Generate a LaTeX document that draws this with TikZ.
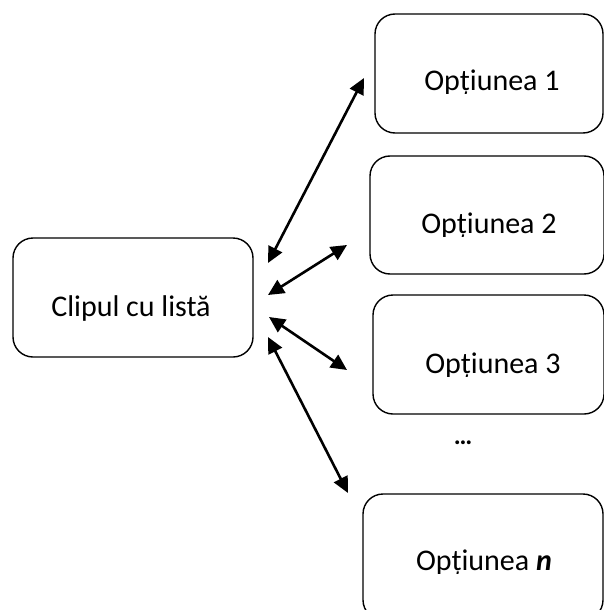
\documentclass[tikz,border=0pt]{standalone}
\usepackage{fontspec}
\setmainfont{Carlito}
\usetikzlibrary{arrows.meta}
\begin{document}
\begin{tikzpicture}[x=1pt,y=-1pt,
  box/.style={draw=black,line width=1.4pt,rounded corners=20pt},
  lbl/.style={anchor=base,inner sep=0pt,font=\fontsize{30}{34}\selectfont},
  dblarrow/.style={line width=2.6pt,{Triangle[length=16pt,width=15pt]}-{Triangle[length=16pt,width=15pt]}}]
\useasboundingbox (0,0) rectangle (604,610);
% boxes
\draw[box] (13,238) rectangle (253,357);
\draw[box] (375,14) rectangle (603,133);
\draw[box] (370,156) rectangle (604,274);
\draw[box] (373,295) rectangle (604,414);
\draw[box] (363,494) rectangle (603,620);
% labels
\node[lbl] (clip) at (131,316) {Clipul cu listă};
\begin{scope}
\clip (376,15) rectangle (602,93.5);
\node[lbl] (o1) at (492,90) {Opțiunea 1};
\end{scope}
\begin{scope}
\clip (371,157) rectangle (602,236.5);
\node[lbl] (o2) at (489,233) {Opțiunea 2};
\end{scope}
\begin{scope}
\clip (374,296) rectangle (602,376.5);
\node[lbl] (o3) at (493,373) {Opțiunea 3};
\end{scope}
\node[font=\bfseries\fontsize{26}{30}\selectfont,inner sep=0pt] (dots) at (463,443) {…};
\begin{scope}
\clip (364,495) rectangle (602,573.5);
\node[lbl] (on) at (484,570) {Opțiunea \textbf{\textit{n}}};
\end{scope}
% arrow end points
\coordinate (a1s) at (268,263);
\coordinate (a1e) at (364,78);
\coordinate (a2s) at (268,295);
\coordinate (a2e) at (347,245);
\coordinate (a3s) at (269,317);
\coordinate (a3e) at (347,370);
\coordinate (a4s) at (268,337);
\coordinate (a4e) at (348,493);
\draw[dblarrow] (a1s) -- (a1e);
\draw[dblarrow] (a2s) -- (a2e);
\draw[dblarrow] (a3s) -- (a3e);
\draw[dblarrow] (a4s) -- (a4e);
\end{tikzpicture}
\end{document}
